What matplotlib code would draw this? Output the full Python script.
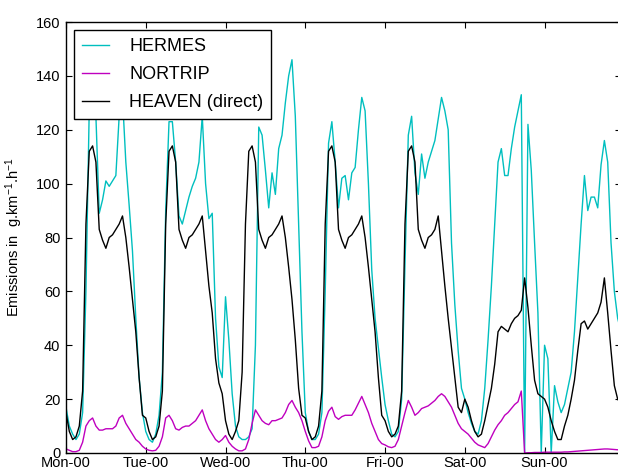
import numpy as np
import matplotlib
matplotlib.use('Agg')
import matplotlib.pyplot as plt

plt.rcParams['font.family'] = ['Liberation Sans', 'DejaVu Sans']
plt.rcParams['mathtext.fontset'] = 'custom'
plt.rcParams['mathtext.rm'] = 'Liberation Sans'
plt.rcParams['mathtext.it'] = 'Liberation Sans:italic'

# тики по оси X - начало каждых суток
day_labels = ['Mon-00', 'Tue-00', 'Wed-00', 'Thu-00', 'Fri-00', 'Sat-00', 'Sun-00']

# HERMES, почасовые значения по дням
hermes_mon = [17, 10, 7, 5, 7, 15, 60, 128, 140, 125, 89, 94, 101, 99, 101, 103, 125, 132, 108, 92, 75, 50, 28, 15]
hermes_tue = [8, 5, 4, 7, 14, 30, 90, 123, 123, 108, 88, 85, 90, 95, 99, 102, 108, 125, 100, 87, 89, 50, 32, 28]
hermes_wed = [58, 42, 22, 10, 6, 5, 5, 6, 9, 40, 121, 118, 105, 91, 104, 96, 113, 118, 130, 140, 146, 125, 85, 45]
hermes_thu = [15, 8, 5, 5, 7, 15, 60, 115, 123, 108, 91, 102, 103, 94, 104, 106, 120, 132, 127, 100, 68, 50, 39, 28]
hermes_fri = [18, 12, 7, 6, 8, 20, 70, 118, 125, 104, 96, 111, 102, 108, 112, 116, 124, 132, 127, 120, 78, 55, 38, 24]
hermes_sat = [20, 15, 11, 8, 7, 12, 24, 42, 62, 85, 108, 113, 103, 103, 113, 121, 127, 133, 0, 122, 105, 78, 52, 0]
hermes_sun = [40, 35, 0, 25, 19, 15, 18, 24, 30, 45, 65, 85, 103, 90, 95, 95, 91, 107, 116, 108, 78, 60, 50, 45]

# NORTRIP
nortrip_mon = [1.5, 1, 0.5, 0.5, 1, 4, 10, 12, 13, 10, 8.5, 8.5, 9, 9, 9, 10, 13, 14, 11, 9, 7, 5, 4, 2.5]
nortrip_tue = [1.5, 1, 0.8, 1, 2.5, 6, 13, 14, 12, 9, 8.5, 9.5, 10, 10, 11, 12, 14, 16, 12, 9, 7, 5, 4, 5]
nortrip_wed = [6.5, 4, 2.5, 1.5, 0.8, 0.8, 1.5, 5, 11, 16, 14, 12, 11, 10.5, 12, 12, 12.5, 13, 15, 18, 19.5, 17, 15, 12]
nortrip_thu = [8, 4.5, 2, 2, 2.5, 6, 12, 15.5, 17, 13.5, 12.5, 13.5, 14, 14, 14, 16, 18.5, 21, 18, 15, 11, 8, 5, 3.5]
nortrip_fri = [3, 2.3, 2, 2.5, 5, 10, 15, 19.5, 17, 14, 15, 16.5, 17, 17.5, 18.5, 19.5, 21, 22, 21, 19, 17, 14, 11, 9]
nortrip_sat = [8, 7, 5.5, 4, 3, 2.5, 2, 3.5, 6, 8.5, 10.5, 12, 14, 15, 16.5, 18, 19, 23, 0, 0.1, 0.1, 0.2, 0.2, 0.2]
nortrip_sun = [0.3, 0.3, 0.3, 0.3, 0.3, 0.3, 0.4, 0.4, 0.5, 0.6, 0.7, 0.8, 0.9, 1.0, 1.1, 1.2, 1.3, 1.4, 1.5, 1.5, 1.4, 1.3, 1.2, 1.1]

# HEAVEN (direct)
heaven_mon = [15, 8, 5, 6, 10, 23, 85, 112, 114, 108, 83, 79, 76, 80, 81, 83, 85, 88, 80, 69, 57, 45, 28, 14]
heaven_tue = [13, 8, 5, 6, 10, 23, 85, 112, 114, 108, 83, 79, 76, 80, 81, 83, 85, 88, 75, 62, 52, 35, 26, 22]
heaven_wed = [12, 7, 5, 8, 12, 30, 85, 112, 114, 108, 83, 79, 76, 80, 81, 83, 85, 88, 80, 69, 57, 42, 24, 14]
heaven_thu = [13, 8, 5, 6, 10, 23, 85, 112, 114, 108, 83, 79, 76, 80, 81, 83, 85, 88, 80, 69, 57, 45, 28, 14]
heaven_fri = [12, 8, 6, 7, 10, 23, 85, 112, 114, 108, 83, 79, 76, 80, 81, 83, 88, 75, 62, 50, 39, 28, 17, 15]
heaven_sat = [20, 17, 12, 8, 6, 7, 12, 18, 24, 33, 45, 47, 46, 45, 48, 50, 51, 53, 65, 54, 40, 27, 22, 21]
heaven_sun = [20, 17, 12, 8, 5, 5, 10, 14, 20, 27, 38, 48, 49, 46, 48, 50, 52, 56, 65, 52, 38, 25, 20, 18]

hermes = hermes_mon + hermes_tue + hermes_wed + hermes_thu + hermes_fri + hermes_sat + hermes_sun
nortrip = nortrip_mon + nortrip_tue + nortrip_wed + nortrip_thu + nortrip_fri + nortrip_sat + nortrip_sun
heaven = heaven_mon + heaven_tue + heaven_wed + heaven_thu + heaven_fri + heaven_sat + heaven_sun
hours = np.arange(len(hermes))

fig = plt.figure(figsize=(6.18, 4.71), dpi=100)
ax = fig.add_axes([66 / 618, 1 - 453 / 471, 555 / 618, 431 / 471])

ax.plot(hours, hermes, color='c', lw=1.0, label='HERMES')
ax.plot(hours, nortrip, color='m', lw=1.0, label='NORTRIP')
ax.plot(hours, heaven, color='k', lw=1.0, label='HEAVEN (direct)')

ax.set_xlim(0, 167)
ax.set_ylim(0, 160)
ax.set_xticks(np.arange(0, 168, 24))
ax.set_xticklabels(day_labels)
ax.set_yticks(np.arange(0, 161, 20))
ax.tick_params(direction='in', length=4, width=0.8, top=True, right=True,
               labelsize=10.5, colors='black')
ax.tick_params(axis='x', pad=2.5)
ax.tick_params(axis='y', pad=4)
for s in ax.spines.values():
    s.set_linewidth(1.0)

ax.set_ylabel('Emissions in  g.km$^{-1}$.h$^{-1}$', fontsize=10.5)
ax.yaxis.set_label_coords(-0.074, 0.5)

leg = ax.legend(loc='upper left', fontsize=13, handlelength=1.5, handletextpad=1.1,
                borderaxespad=0.45, labelspacing=0.6, borderpad=0.45,
                fancybox=False, framealpha=1, edgecolor='black')
leg.get_frame().set_linewidth(1.0)

fig.savefig('out.png', dpi=100)
